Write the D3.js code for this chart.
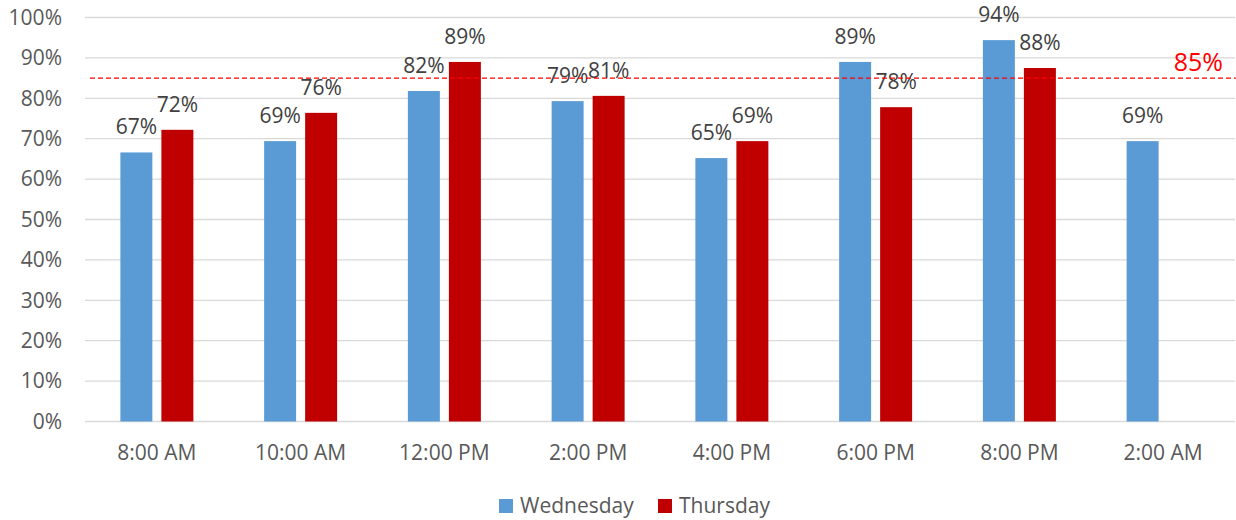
<!DOCTYPE html>
<html lang="en">
<head>
<meta charset="utf-8" />
<title>Occupancy by time</title>
<script src="https://d3js.org/d3.v7.min.js"></script>
<style>
  body { margin: 0; background: #fff; }
  text { font-family: "Open Sans", "Liberation Sans", sans-serif; }
</style>
</head>
<body>
<div id="chart"></div>
<script>
// categories and series
const times = ["8:00 AM", "10:00 AM", "12:00 PM", "2:00 PM", "4:00 PM", "6:00 PM", "8:00 PM", "2:00 AM"];
const wednesday = [66.6, 69.4, 81.8, 79.3, 65.2, 89.0, 94.4, 69.4];
const thursday = [72.2, 76.4, 89.0, 80.6, 69.4, 77.8, 87.5, null];
const seriesNames = ["Wednesday", "Thursday"];
const seriesColors = ["#5B9BD5", "#C00000"];
const yTicks = [0, 10, 20, 30, 40, 50, 60, 70, 80, 90, 100];
const target = 85;

const W = 1236, H = 520;
const plot = { left: 85, right: 1235, top: 17.5, bottom: 421.5 };

const svg = d3.select("#chart").append("svg")
    .attr("width", W)
    .attr("height", H);

const y = d3.scaleLinear().domain([0, 100]).range([plot.bottom, plot.top]);
const x0 = d3.scaleBand().domain(times).range([plot.left, plot.right]);
const x1 = d3.scaleBand().domain(seriesNames)
    .range([x0.bandwidth() / 2 - 36.5, x0.bandwidth() / 2 + 36.5])
    .paddingInner(0.22);

// gridlines
svg.append("g").selectAll("line")
    .data(yTicks)
    .join("line")
    .attr("x1", plot.left).attr("x2", plot.right)
    .attr("y1", d => y(d)).attr("y2", d => y(d))
    .attr("stroke", "#D9D9D9")
    .attr("stroke-width", 1.3);

// y axis labels
const yAxis = d3.axisLeft(y).tickValues(yTicks).tickFormat(d => d + "%").tickSize(0).tickPadding(0);
svg.append("g")
    .attr("transform", `translate(62,0)`)
    .call(yAxis)
    .call(g => g.select(".domain").remove())
    .call(g => g.selectAll("text")
        .attr("fill", "#595959")
        .style("font-size", "21px"));

// x axis labels
const xAxis = d3.axisBottom(x0).tickSize(0).tickPadding(0);
svg.append("g")
    .attr("transform", `translate(0,${plot.bottom + 24})`)
    .call(xAxis)
    .call(g => g.select(".domain").remove())
    .call(g => g.selectAll("text")
        .attr("fill", "#595959")
        .style("font-size", "21px"));

// bars
const rows = times.map((t, i) => ({ time: t, values: [wednesday[i], thursday[i]] }));
const groups = svg.append("g").selectAll("g")
    .data(rows)
    .join("g")
    .attr("transform", d => `translate(${x0(d.time)},0)`);

const cells = d => d.values.map((v, j) => ({ name: seriesNames[j], color: seriesColors[j], value: v }))
    .filter(c => c.value != null);

groups.selectAll("rect")
    .data(cells)
    .join("rect")
    .attr("x", d => x1(d.name))
    .attr("width", x1.bandwidth())
    .attr("y", d => y(d.value))
    .attr("height", d => y(0) - y(d.value))
    .attr("fill", d => d.color);

groups.selectAll("text.lbl")
    .data(cells)
    .join("text")
    .attr("class", "lbl")
    .attr("x", d => x1(d.name) + x1.bandwidth() / 2)
    .attr("y", d => y(d.value) - 18)
    .attr("text-anchor", "middle")
    .attr("fill", "#404040")
    .style("font-size", "21px")
    .text(d => Math.round(d.value) + "%");

// target line
svg.append("line")
    .attr("x1", plot.left + 5).attr("x2", W)
    .attr("y1", y(target)).attr("y2", y(target))
    .attr("stroke", "#FF0000")
    .attr("stroke-width", 1.3)
    .attr("stroke-dasharray", "5,3");

svg.append("text")
    .attr("x", 1223)
    .attr("y", y(target) - 7)
    .attr("text-anchor", "end")
    .attr("fill", "#FF0000")
    .style("font-size", "25px")
    .text(target + "%");

// legend
const legend = svg.append("g").attr("transform", "translate(499,499)");
const legX = [0, 159];
seriesNames.forEach((name, i) => {
    const g = legend.append("g").attr("transform", `translate(${legX[i]},0)`);
    g.append("rect").attr("width", 14).attr("height", 14).attr("fill", seriesColors[i]);
    g.append("text")
        .attr("x", 21)
        .attr("y", 14)
        .attr("fill", "#595959")
        .style("font-size", "21px")
        .text(name);
});
</script>
</body>
</html>
